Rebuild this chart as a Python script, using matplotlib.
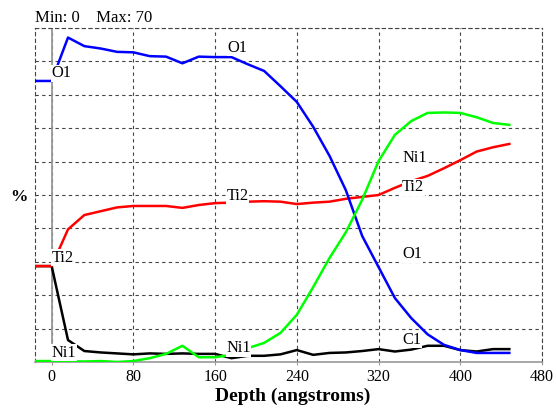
import matplotlib
matplotlib.use("Agg")
import matplotlib.pyplot as plt

# ---- data ----
depth = [-16, 0, 16, 32, 48, 64, 80, 96, 112, 128, 144, 160, 176, 192, 208, 224,
         240, 256, 272, 288, 304, 320, 336, 352, 368, 384, 400, 416, 432, 448]

o1 = [58.9, 58.9, 68.0, 66.2, 65.7, 65.0, 64.9, 64.1, 64.0, 62.6, 64.0, 63.9, 63.9,
      62.4, 61.0, 57.8, 54.5, 49.3, 43.2, 36.0, 26.4, 19.9, 13.4, 9.2, 5.8, 3.6,
      2.5, 1.9, 1.9, 1.9]
ti2 = [20.1, 20.1, 27.8, 30.8, 31.6, 32.4, 32.7, 32.7, 32.7, 32.3, 32.9, 33.3, 33.4,
       33.6, 33.7, 33.6, 33.1, 33.4, 33.6, 34.2, 34.6, 35.0, 36.5, 37.9, 39.0, 40.6,
       42.3, 44.1, 45.0, 45.7]
ni1 = [0.2, 0.2, 0.2, 0.1, 0.2, 0.0, 0.2, 0.8, 1.7, 3.4, 1.0, 1.0, 1.5, 2.9, 4.0,
       6.1, 9.9, 15.7, 21.8, 27.2, 34.0, 42.1, 47.6, 50.5, 52.2, 52.3, 52.2, 51.3,
       50.1, 49.7]
c1 = [20.1, 20.1, 4.6, 2.3, 2.0, 1.8, 1.6, 1.8, 1.7, 1.8, 1.7, 1.7, 0.8, 1.3, 1.3,
      1.6, 2.5, 1.5, 1.9, 2.0, 2.3, 2.7, 2.2, 2.6, 3.4, 3.4, 2.5, 2.2, 2.7, 2.7]

x_ticks = [0, 80, 160, 240, 320, 400, 480]
y_min, y_max = 0, 70

# curve labels: (text, depth, value)
labels = [
    ("O1", 0, 59.7), ("Ti2", 0, 21.0), ("Ni1", 0, 1.1),
    ("O1", 172, 65.0), ("Ti2", 171, 34.0), ("Ni1", 171, 2.0),
    ("Ni1", 343, 42.0), ("Ti2", 343, 35.8), ("O1", 343, 21.7), ("C1", 343, 3.8),
]

serif = ["Liberation Serif", "DejaVu Serif"]
plt.rcParams["font.family"] = serif

fig = plt.figure(figsize=(5.56, 4.08), dpi=100)
ax = fig.add_axes([35 / 556, 1 - 362 / 408, 507 / 556, 334 / 408])

lw = 1.8
ax.plot(depth, c1, color="black", lw=lw, zorder=3)
ax.plot(depth, ti2, color="#ff0000", lw=lw, zorder=3)
ax.plot(depth, o1, color="#0000ff", lw=lw, zorder=3)
ax.plot(depth, ni1, color="#00ff00", lw=lw, zorder=3)

for txt, xx, yy in labels:
    ax.text(xx, yy, txt, fontsize=11.8, ha="left", va="baseline", zorder=5,
            bbox=dict(facecolor="white", edgecolor="none", pad=0.3))

ax.set_xlim(-16.3, 480)
ax.set_ylim(y_min, y_max)
ax.set_xticks(x_ticks)
ax.set_xticklabels([str(v) for v in x_ticks], fontsize=11.5)
ax.set_yticks([y_min + i * (y_max - y_min) / 10 for i in range(11)])
ax.set_yticklabels([])
ax.tick_params(axis="y", length=0)
ax.tick_params(axis="x", length=2, color="#999999", pad=3)

ax.grid(True, color="#444444", linestyle=(0, (3, 3)), linewidth=0.8, zorder=1)
ax.set_axisbelow(True)
for s in ("left", "top", "right"):
    ax.spines[s].set_color("#444444")
    ax.spines[s].set_linestyle((0, (3, 3)))
    ax.spines[s].set_linewidth(0.8)
ax.spines["bottom"].set_color("#999999")
ax.spines["bottom"].set_linewidth(1.2)
ax.axvline(0, color="#999999", lw=1.3, zorder=2)

ax.set_xlabel("Depth (angstroms)", fontsize=14, fontweight="bold")
ax.xaxis.set_label_coords(0.509, -0.077)
ax.set_ylabel("%", fontsize=12.5, fontweight="bold", rotation=0, ha="center", va="center")
ax.yaxis.set_label_coords(-0.032, 0.494)

fig.text(35 / 556, 1 - 22 / 408, "Min: 0    Max: 70", fontsize=12, ha="left", va="baseline")

fig.savefig("out.png", dpi=100)
